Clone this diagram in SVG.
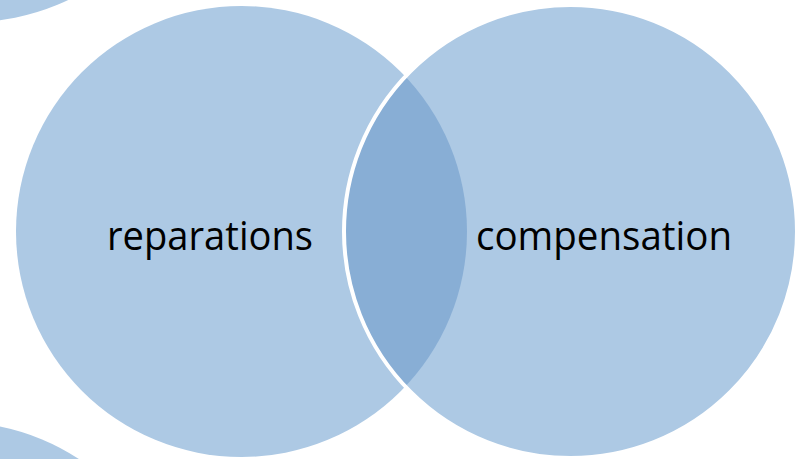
<svg xmlns="http://www.w3.org/2000/svg" width="799" height="459" viewBox="0 0 799 459">
  <style>
    .c { fill: #ADC9E4; }
    .lbl { font-family: "Open Sans", "Liberation Sans", sans-serif; font-size: 41px; fill: #000000; }
  </style>
  <defs>
    <clipPath id="leftClip">
      <circle cx="241.5" cy="231.5" r="225.5"/>
    </clipPath>
  </defs>
  <rect width="799" height="459" fill="#FFFFFF"/>
  <g id="partial-top">
    <circle class="c" cx="-29" cy="-204" r="226"/>
  </g>
  <g id="partial-bottom">
    <circle class="c" cx="-45" cy="648" r="226"/>
  </g>
  <g id="node-reparations">
    <circle class="c" cx="241.5" cy="231.5" r="225.5"/>
    <text class="lbl" x="107" y="250" textLength="206" lengthAdjust="spacingAndGlyphs">reparations</text>
  </g>
  <g id="node-compensation">
    <circle class="c" cx="570.5" cy="231.5" r="226.5"/>
    <circle cx="570.5" cy="231.5" r="226.5" fill="#88AED5" clip-path="url(#leftClip)"/>
    <circle cx="570.5" cy="231.5" r="226.5" fill="none" stroke="#FFFFFF" stroke-width="4"/>
    <text class="lbl" x="476" y="250" textLength="256" lengthAdjust="spacingAndGlyphs">compensation</text>
  </g>
  <g id="connectors"/>
</svg>
